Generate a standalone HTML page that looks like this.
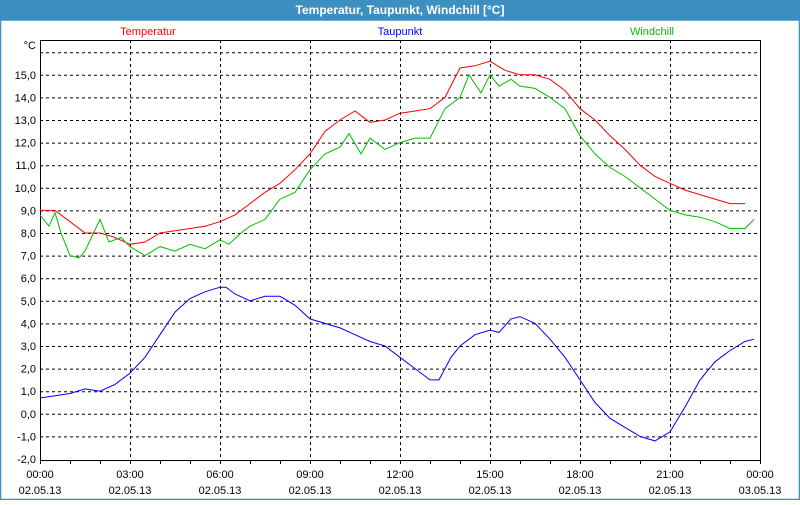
<!DOCTYPE html>
<html><head><meta charset="utf-8">
<style>
body{margin:0;width:800px;height:500px;overflow:hidden;background:#fff;font-family:"Liberation Sans",sans-serif}
</style></head><body>
<svg id="s" width="800" height="500" xmlns="http://www.w3.org/2000/svg" font-family="Liberation Sans, sans-serif" font-size="11">
<rect x="0" y="0" width="800" height="500" fill="#fff"/>
<rect x="0" y="0" width="800" height="20" fill="#3d8fc2"/>
<rect x="0.5" y="20" width="799" height="479.5" fill="none" stroke="#3d8fc2" stroke-width="1.5"/>
<text x="400" y="14" text-anchor="middle" fill="#fff" font-weight="bold" font-size="12">Temperatur, Taupunkt, Windchill [°C]</text>
<text x="148" y="35" text-anchor="middle" fill="#ff0000">Temperatur</text>
<text x="400" y="35" text-anchor="middle" fill="#0000ff">Taupunkt</text>
<text x="652" y="35" text-anchor="middle" fill="#00c000">Windchill</text>
<g id="g"></g>
</svg>
<script>
const g=document.getElementById('g');const NS='http://www.w3.org/2000/svg';
function el(t,a,txt){const e=document.createElementNS(NS,t);for(const k in a)e.setAttribute(k,a[k]);if(txt!==undefined)e.textContent=txt;g.appendChild(e);return e;}
const L=40,R=760,T=40,B=460;
const Y=v=>459-(v+2)*22.6, X=h=>L+h*30;
for(let v=-1;v<=16;v++){el('line',{x1:L,x2:R,y1:Y(v)+.5,y2:Y(v)+.5,stroke:'#000','stroke-dasharray':'3,3'});}
for(let v=-2;v<=15;v++){el('text',{x:36,y:Y(v)+4,'text-anchor':'end',fill:'#000'},(v+',0'));}
el('text',{x:36,y:49,'text-anchor':'end'},'°C');
for(let h=3;h<24;h+=3){el('line',{x1:X(h)+.5,x2:X(h)+.5,y1:T,y2:B,stroke:'#000','stroke-dasharray':'3,3'});}
for(let h=0;h<=24;h++){el('line',{x1:X(h)+.5,x2:X(h)+.5,y1:B,y2:B+4,stroke:'#000'});}
for(let h=0;h<=24;h+=3){const hh=(h%24<10?'0':'')+(h%24)+':00';el('text',{x:X(h),y:478,'text-anchor':'middle'},hh);el('text',{x:X(h),y:494,'text-anchor':'middle'},h==24?'03.05.13':'02.05.13');}
el('rect',{x:L+.5,y:T+.5,width:R-L,height:B-T,fill:'none',stroke:'#000'});
function line(d,c){let p=[];for(let i=0;i<d.length;i+=2)p.push(X(d[i]).toFixed(1)+','+Y(d[i+1]).toFixed(1));el('polyline',{points:p.join(' '),fill:'none',stroke:c});}
line([0,9.0,0.5,9.0,1,8.5,1.5,8.0,2,8.0,2.5,7.8,3,7.5,3.5,7.6,4,8.0,5,8.2,5.5,8.3,6,8.5,6.5,8.8,7,9.3,7.5,9.8,8,10.2,8.5,10.8,9,11.5,9.5,12.5,10,13.0,10.5,13.4,11,12.9,11.5,13.0,12,13.3,12.5,13.4,13,13.5,13.5,14.0,14,15.3,14.5,15.4,15,15.6,15.5,15.2,16,15.0,16.5,15.0,17,14.8,17.5,14.3,18,13.5,18.5,13.0,19,12.3,19.5,11.7,20,11.0,20.5,10.5,21,10.2,21.5,9.9,22,9.7,22.5,9.5,23,9.3,23.5,9.3],'#ff0000');
line([0,8.8,0.3,8.3,0.5,8.9,0.7,8.0,1,7.0,1.3,6.9,1.5,7.2,2,8.6,2.3,7.6,2.7,7.8,3,7.4,3.5,7.0,4,7.4,4.5,7.2,5,7.5,5.5,7.3,6,7.7,6.3,7.5,6.7,8.0,7,8.3,7.5,8.6,8,9.5,8.5,9.8,9,10.8,9.5,11.5,10,11.8,10.3,12.4,10.7,11.5,11,12.2,11.5,11.7,12,12.0,12.5,12.2,13,12.2,13.5,13.5,14,14.0,14.3,15.0,14.7,14.2,15,15.0,15.3,14.5,15.7,14.8,16,14.5,16.5,14.4,17,14.0,17.5,13.5,18,12.3,18.5,11.5,19,10.9,19.5,10.5,20,10.0,20.5,9.5,21,9.0,21.5,8.8,22,8.7,22.5,8.5,23,8.2,23.5,8.2,23.8,8.6],'#00c000');
line([0,0.7,1,0.9,1.5,1.1,2,1.0,2.5,1.3,3,1.8,3.5,2.5,4,3.5,4.5,4.5,5,5.1,5.5,5.4,6,5.6,6.2,5.6,6.5,5.3,7,5.0,7.5,5.2,8,5.2,8.5,4.8,9,4.2,10,3.8,10.5,3.5,11,3.2,11.5,3.0,12,2.5,12.5,2.0,13,1.5,13.3,1.5,13.7,2.5,14,3.0,14.5,3.5,15,3.7,15.3,3.6,15.7,4.2,16,4.3,16.5,4.0,17,3.3,17.5,2.5,18,1.5,18.5,0.5,19,-0.2,19.5,-0.6,20,-1.0,20.5,-1.2,21,-0.8,21.5,0.3,22,1.5,22.5,2.3,23,2.8,23.5,3.2,23.8,3.3],'#0000ff');
</script>
</body></html>
